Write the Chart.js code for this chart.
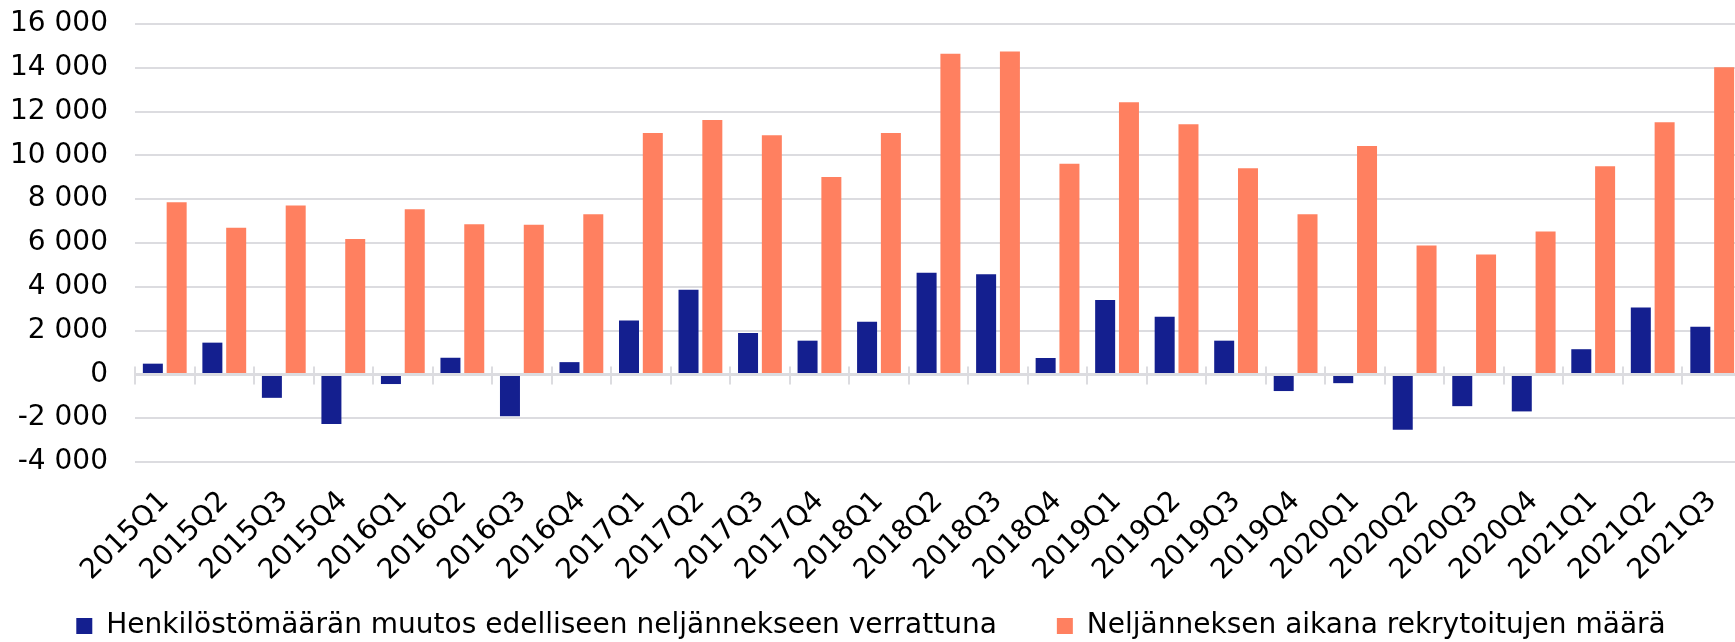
<!DOCTYPE html>
<html>
<head>
<meta charset="utf-8">
<title>Henkilöstömäärän muutos ja rekrytoinnit</title>
<script src="https://cdn.jsdelivr.net/npm/chart.js@4/dist/chart.umd.min.js"></script>
<style>
    html, body { margin: 0; padding: 0; background: #fff; overflow: hidden; }
    #wrap { width: 1735px; height: 642px; overflow: hidden; }
</style>
</head>
<body>
<div id="wrap"><canvas id="chart" width="1745" height="642"></canvas></div>
<script>
// Quarters
const quarters = [
    '2015Q1', '2015Q2', '2015Q3', '2015Q4',
    '2016Q1', '2016Q2', '2016Q3', '2016Q4',
    '2017Q1', '2017Q2', '2017Q3', '2017Q4',
    '2018Q1', '2018Q2', '2018Q3', '2018Q4',
    '2019Q1', '2019Q2', '2019Q3', '2019Q4',
    '2020Q1', '2020Q2', '2020Q3', '2020Q4',
    '2021Q1', '2021Q2', '2021Q3'
];

// Henkilöstömäärän muutos edelliseen neljännekseen verrattuna
const staffChange = [
    490, 1450, -1070, -2270,
    -440, 760, -1910, 560,
    2460, 3860, 1890, 1540,
    2400, 4640, 4570, 750,
    3400, 2630, 1540, -760,
    -400, -2530, -1450, -1690,
    1150, 3050, 2180
];

// Neljänneksen aikana rekrytoitujen määrä
const recruited = [
    7860, 6700, 7710, 6180,
    7540, 6860, 6830, 7310,
    11020, 11620, 10920, 9010,
    11020, 14640, 14740, 9620,
    12430, 11420, 9410, 7310,
    10430, 5890, 5480, 6520,
    9510, 11510, 14030
];

const seriesLabels = [
    'Henkilöstömäärän muutos edelliseen neljännekseen verrattuna',
    'Neljänneksen aikana rekrytoitujen määrä'
];

const yMin = -4000;
const yMax = 16000;
const yStep = 2000;

document.addEventListener('DOMContentLoaded', function() {
    const gridColor = '#dcdce0';

    Chart.defaults.font.family = '"DejaVu Sans", Verdana, sans-serif';
    Chart.defaults.color = '#000';

    // "16 000", "-4 000"
    function formatTick(value) {
        const s = Math.abs(value).toString().replace(/\B(?=(\d{3})+(?!\d))/g, ' ');
        return (value < 0 ? '-' : '') + s;
    }

    // Zero line with small category ticks across it
    const zeroAxis = {
        id: 'zeroAxis',
        afterDatasetsDraw(chart) {
            const ctx = chart.ctx;
            const x = chart.scales.x;
            const y = chart.scales.y;
            const y0 = y.getPixelForValue(0);
            const half = (x.getPixelForValue(1) - x.getPixelForValue(0)) / 2;
            ctx.save();
            ctx.strokeStyle = gridColor;
            ctx.lineWidth = 3;
            ctx.beginPath();
            ctx.moveTo(chart.chartArea.left, y0);
            ctx.lineTo(chart.chartArea.right, y0);
            ctx.stroke();
            ctx.lineWidth = 2;
            ctx.beginPath();
            for (let i = 0; i <= quarters.length; i++) {
                const px = Math.round(x.getPixelForValue(i) - half);
                ctx.moveTo(px, y0 - 8);
                ctx.lineTo(px, y0 + 10);
            }
            ctx.stroke();
            ctx.restore();
        }
    };

    const ctx = document.getElementById('chart').getContext('2d');
    new Chart(ctx, {
        type: 'bar',
        data: {
            labels: quarters,
            datasets: [{
                label: seriesLabels[0],
                data: staffChange,
                backgroundColor: '#141f8f',
                borderWidth: 0
            }, {
                label: seriesLabels[1],
                data: recruited,
                backgroundColor: '#ff8060',
                borderWidth: 0
            }]
        },
        options: {
            responsive: false,
            devicePixelRatio: 1,
            animation: false,
            layout: {
                padding: { top: 24, right: 3, left: 0, bottom: -8 }
            },
            datasets: {
                bar: {
                    categoryPercentage: 0.8,
                    barPercentage: 0.84
                }
            },
            plugins: {
                legend: {
                    position: 'bottom',
                    labels: {
                        boxWidth: 16,
                        boxHeight: 16,
                        padding: 4,
                        font: { size: 28 },
                        generateLabels: function(chart) {
                            const items = Chart.defaults.plugins.legend.labels.generateLabels(chart);
                            // wider gap between the two items
                            items[0].text += '\u2003\u2003';
                            return items;
                        }
                    }
                },
                tooltip: { enabled: false }
            },
            scales: {
                x: {
                    grid: { display: false },
                    border: { display: false },
                    ticks: {
                        autoSkip: false,
                        maxRotation: 45,
                        minRotation: 45,
                        padding: 15,
                        font: { size: 28 }
                    },
                    afterFit: function(scale) {
                        scale.paddingLeft = 0;
                        scale.paddingRight = 0;
                        scale.height = 146;
                    }
                },
                y: {
                    min: yMin,
                    max: yMax,
                    border: { display: false },
                    grid: {
                        color: gridColor,
                        lineWidth: 2,
                        drawTicks: false
                    },
                    ticks: {
                        stepSize: yStep,
                        padding: 27,
                        font: { size: 28 },
                        callback: function(value) {
                            return formatTick(value);
                        }
                    },
                    afterFit: function(scale) {
                        scale.width = 135;
                        scale.paddingTop = 0;
                        scale.paddingBottom = 0;
                    }
                }
            }
        },
        plugins: [zeroAxis]
    });
});
</script>
</body>
</html>
